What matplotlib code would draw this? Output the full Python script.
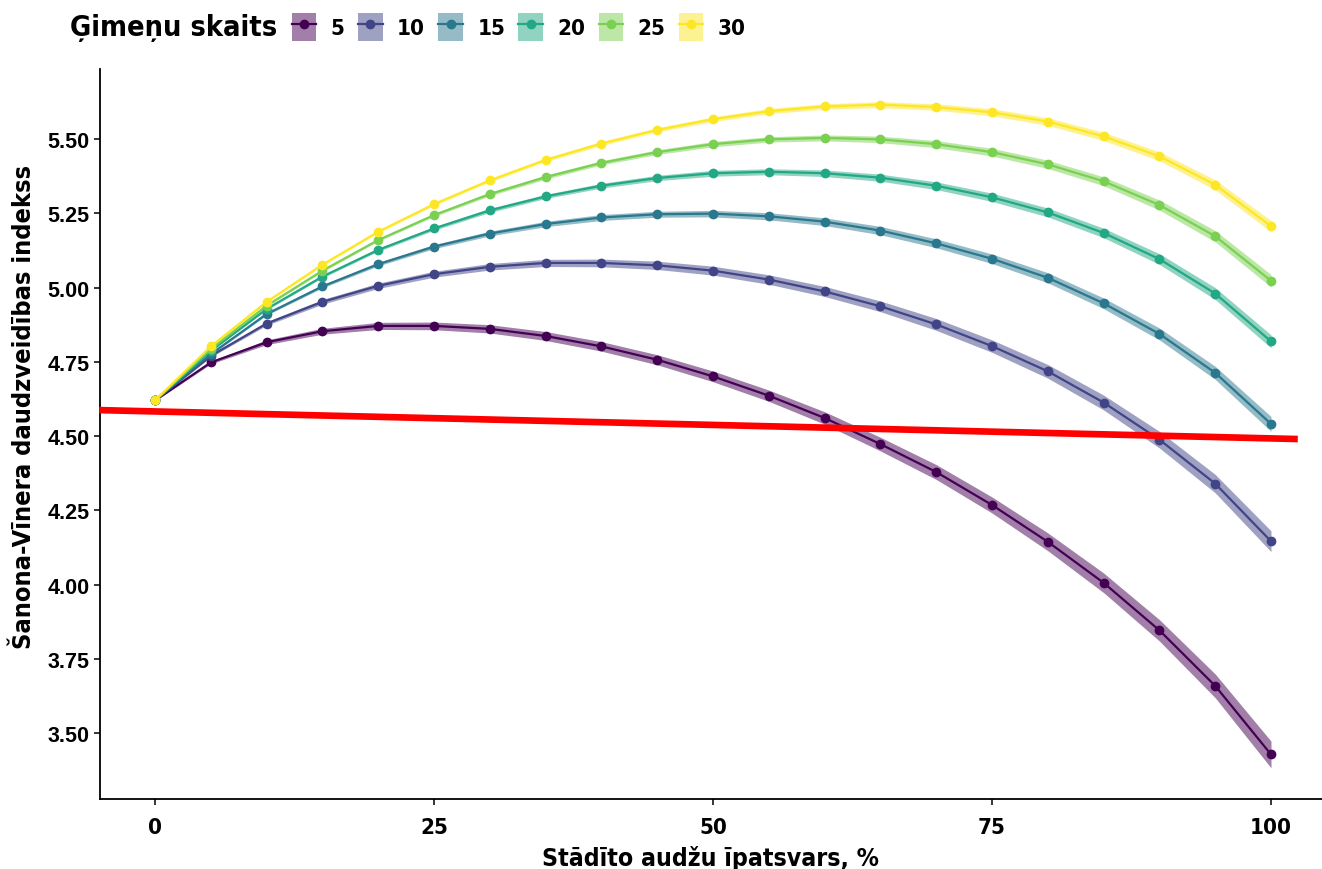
import numpy as np
import matplotlib
matplotlib.use('Agg')
import matplotlib.pyplot as plt
from matplotlib import font_manager
from matplotlib.patches import Patch
from matplotlib.lines import Line2D

# x axis: share of planted stands, %
share = [0, 5, 10, 15, 20, 25, 30, 35, 40, 45, 50, 55, 60, 65, 70, 75, 80, 85, 90, 95, 100]

families = ['5', '10', '15', '20', '25', '30']
colors = ['#440154', '#414487', '#2A788E', '#22A884', '#7AD151', '#FDE725']

h5 = [4.620, 4.748, 4.816, 4.853, 4.871, 4.871, 4.861, 4.837, 4.802, 4.757, 4.701,
      4.636, 4.561, 4.473, 4.379, 4.268, 4.144, 4.006, 3.846, 3.659, 3.428]
h10 = [4.620, 4.770, 4.879, 4.952, 5.006, 5.045, 5.070, 5.083, 5.083, 5.075, 5.057,
       5.027, 4.987, 4.937, 4.876, 4.803, 4.718, 4.613, 4.488, 4.340, 4.146]
h15 = [4.620, 4.776, 4.911, 5.004, 5.079, 5.138, 5.182, 5.214, 5.236, 5.247, 5.249,
       5.240, 5.222, 5.192, 5.149, 5.097, 5.033, 4.947, 4.844, 4.713, 4.541]
h20 = [4.620, 4.787, 4.928, 5.037, 5.127, 5.199, 5.260, 5.307, 5.343, 5.369, 5.385,
       5.390, 5.385, 5.370, 5.343, 5.304, 5.253, 5.184, 5.096, 4.980, 4.819]
h25 = [4.620, 4.793, 4.939, 5.057, 5.160, 5.244, 5.315, 5.372, 5.420, 5.456, 5.483,
       5.499, 5.504, 5.499, 5.483, 5.456, 5.415, 5.358, 5.278, 5.173, 5.023]
h30 = [4.620, 4.802, 4.952, 5.077, 5.188, 5.281, 5.361, 5.430, 5.485, 5.531, 5.567,
       5.594, 5.610, 5.616, 5.608, 5.590, 5.559, 5.509, 5.442, 5.346, 5.207]

# half widths of the confidence ribbons
se5 = [0.002, 0.005, 0.008, 0.010, 0.012, 0.013, 0.014, 0.015, 0.016, 0.017, 0.018,
       0.019, 0.021, 0.023, 0.025, 0.027, 0.030, 0.033, 0.036, 0.040, 0.045]
se10 = [0.002, 0.004, 0.006, 0.008, 0.009, 0.010, 0.011, 0.012, 0.013, 0.014, 0.015,
        0.016, 0.017, 0.018, 0.020, 0.021, 0.023, 0.025, 0.028, 0.031, 0.035]
se15 = [0.001, 0.003, 0.004, 0.005, 0.006, 0.007, 0.008, 0.009, 0.010, 0.010, 0.011,
        0.012, 0.013, 0.014, 0.015, 0.016, 0.017, 0.018, 0.020, 0.022, 0.025]
se20 = [0.001, 0.002, 0.003, 0.004, 0.005, 0.006, 0.007, 0.007, 0.008, 0.009, 0.010,
        0.010, 0.011, 0.012, 0.013, 0.014, 0.015, 0.016, 0.018, 0.020, 0.022]
se25 = [0.001, 0.002, 0.003, 0.004, 0.004, 0.005, 0.006, 0.007, 0.007, 0.008, 0.009,
        0.009, 0.010, 0.011, 0.012, 0.013, 0.014, 0.015, 0.017, 0.019, 0.021]
se30 = [0.001, 0.002, 0.003, 0.003, 0.004, 0.005, 0.005, 0.006, 0.007, 0.007, 0.008,
        0.009, 0.009, 0.010, 0.011, 0.012, 0.013, 0.014, 0.015, 0.017, 0.019]

series = [h5, h10, h15, h20, h25, h30]
ribbons = [se5, se10, se15, se20, se25, se30]

# red reference line (ends)
ref_x = [-5, 102.4]
ref_y = [4.5875, 4.490]

# narrow bold face
narrow_fp = font_manager.FontProperties(family='DejaVu Sans', stretch='condensed', weight='bold')
plain = ['Liberation Sans', 'DejaVu Sans']


def narrow(size):
    fp = narrow_fp.copy()
    fp.set_size(size)
    return fp


fig = plt.figure(figsize=(13.22, 8.70), dpi=100)
ax = fig.add_axes([100 / 1322, 70 / 870, 1 - 100 / 1322, 730 / 870])

x = np.array(share)
for y, se, c in zip(series, ribbons, colors):
    y = np.array(y)
    se = np.array(se)
    ax.fill_between(x, y - se, y + se, color=c, alpha=0.5, lw=0)
    ax.plot(x, y, color=c, lw=1.6, marker='o', ms=6, mec=c)

ax.plot(ref_x, ref_y, color='red', lw=4.8, solid_capstyle='butt', clip_on=False, zorder=5)

ax.set_xlim(-4.93, 104.57)
ax.set_ylim(3.278, 5.736)
ax.set_xticks([0, 25, 50, 75, 100])
ax.set_yticks([3.50, 3.75, 4.00, 4.25, 4.50, 4.75, 5.00, 5.25, 5.50])
ax.set_yticklabels(['%.2f' % v for v in ax.get_yticks()])

for s in ['top', 'right']:
    ax.spines[s].set_visible(False)
for s in ['left', 'bottom']:
    ax.spines[s].set_linewidth(1.3)
ax.tick_params(length=4, width=1.1, color='black')
ax.tick_params(axis='x', pad=9)

for lab in ax.get_xticklabels():
    lab.set_fontproperties(narrow(16))
for lab in ax.get_yticklabels():
    lab.set_family(plain)
    lab.set_fontsize(15.5)
    lab.set_fontweight('bold')

ax.set_xlabel('Stādīto audžu īpatsvars, %', fontproperties=narrow(17.8), labelpad=6)
ax.set_ylabel('Šanona-Vīnera daudzveidības indekss', fontproperties=narrow(18.2))
ax.yaxis.set_label_coords(-0.052, 0.538)

# legend at top
handles = []
for c in colors:
    handles.append((Patch(facecolor=c, alpha=0.5, edgecolor='none'),
                    Line2D([], [], color=c, lw=1.6, marker='o', ms=6)))
fig.text(70 / 1322, 1 - 28 / 870, 'Ģimeņu skaits', fontproperties=narrow(20.8),
         va='center', ha='left')
leg = fig.legend(handles, families, loc='center left',
                 bbox_to_anchor=(292 / 1322, 1 - 28 / 870), ncol=6, frameon=False,
                 handlelength=1.1, handleheight=1.5, handletextpad=0.65,
                 columnspacing=0.6, borderaxespad=0, borderpad=0,
                 prop=narrow(16))

fig.savefig('out.png', dpi=100)
